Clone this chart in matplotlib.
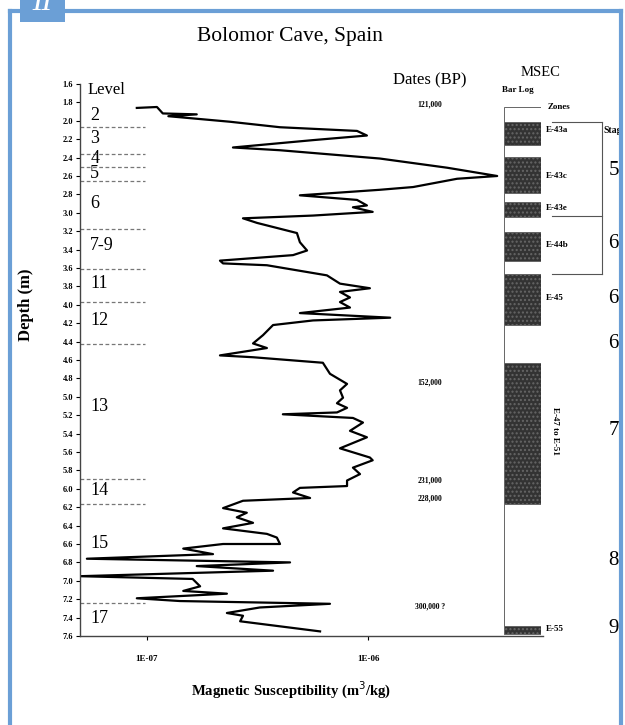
import numpy as np
import matplotlib.pyplot as plt
from matplotlib.patches import Rectangle
from matplotlib.lines import Line2D
from matplotlib.ticker import NullLocator

plt.rcParams['font.family'] = ['Liberation Serif', 'DejaVu Serif']

# susceptibility log: depth (m) and value in units of 1E-07 m3/kg
depth = [1.86, 1.85, 1.92, 1.93, 1.95, 2.01, 2.07, 2.11, 2.16, 2.21, 2.29, 2.32,
         2.41, 2.51, 2.60, 2.63, 2.72, 2.75, 2.81, 2.86, 2.92, 2.94, 2.99, 3.03,
         3.06, 3.11, 3.22, 3.32, 3.41, 3.46, 3.52, 3.55, 3.57, 3.68, 3.77, 3.82,
         3.86, 3.92, 3.97, 4.03, 4.09, 4.14, 4.17, 4.22, 4.33, 4.42, 4.47, 4.55,
         4.57, 4.63, 4.75, 4.86, 4.93, 5.01, 5.07, 5.12, 5.17, 5.19, 5.23, 5.28,
         5.37, 5.44, 5.56, 5.66, 5.69, 5.77, 5.84, 5.91, 5.97, 5.99, 6.04, 6.10,
         6.13, 6.21, 6.26, 6.31, 6.37, 6.43, 6.49, 6.53, 6.60, 6.60, 6.65, 6.71,
         6.76, 6.80, 6.84, 6.89, 6.95, 6.98, 7.06, 7.11, 7.14, 7.19, 7.22, 7.25,
         7.29, 7.35, 7.38, 7.44, 7.55]
susc = [0.90, 1.11, 1.18, 1.68, 1.25, 2.37, 4.00, 8.92, 9.89, 5.64, 2.45, 4.00,
        11.3, 22.8, 38.4, 25.3, 16.0, 11.3, 4.92, 8.92, 9.89, 8.55, 10.5, 5.64,
        2.72, 3.15, 4.77, 4.92, 5.30, 4.58, 2.14, 2.21, 3.49, 6.52, 7.47, 10.2,
        7.47, 8.29, 7.47, 8.29, 4.92, 12.6, 5.64, 3.72, 3.35, 3.02, 3.49, 2.14,
        3.02, 6.25, 6.73, 8.04, 7.47, 7.71, 7.24, 8.04, 7.24, 4.12, 8.55, 9.49,
        8.29, 9.89, 7.47, 10.2, 10.5, 8.55, 9.20, 8.04, 8.04, 4.92, 4.58, 5.47,
        2.72, 2.21, 2.83, 2.55, 3.02, 2.21, 3.49, 3.87, 4.00, 2.21, 1.46, 1.99,
        0.535, 4.44, 1.68, 3.72, 0.497, 1.61, 1.74, 1.46, 2.30, 0.90, 1.41, 6.73,
        3.24, 2.30, 2.72, 2.64, 6.07]

levels = ['2', '3', '4', '5', '6', '7-9', '11', '12', '13', '14', '15', '17']
level_depth = [1.94, 2.19, 2.41, 2.57, 2.90, 3.35, 3.77, 4.17, 5.10, 6.02, 6.59, 7.41]
level_bounds = [2.07, 2.36, 2.50, 2.65, 3.18, 3.61, 3.97, 4.43, 5.89, 6.17, 7.24]

dates = ['121,000', '152,000', '231,000', '228,000', '300,000 ?']
date_depth = [1.82, 4.84, 5.91, 6.11, 7.28]

# bar log segments (top, bottom), alternating white / dark
bar_edges = [1.85, 2.01, 2.26, 2.39, 2.79, 2.88, 3.05, 3.21, 3.52, 3.66, 4.22,
             4.63, 6.16, 7.49, 7.58]
zones = ['E-43a', 'E-43c', 'E-43e', 'E-44b', 'E-45', 'E-55']
zone_depth = [2.10, 2.60, 2.95, 3.35, 3.93, 7.52]
stages = ['5', '6', '6', '6', '7', '8', '9']
stage_depth = [2.54, 3.33, 3.93, 4.42, 5.37, 6.78, 7.52]

W, H = 625, 725
fig = plt.figure(figsize=(W / 100, H / 100), dpi=100)

# main log plot
ax = fig.add_axes([80 / W, 89 / H, 463 / W, 552 / H])
ax.plot(np.array(susc) * 1e-7, depth, color='black', lw=1.6)
ax.set_xscale('log')
ax.set_xlim(4.98e-8, 6.19e-6)
ax.set_ylim(7.6, 1.6)
ax.set_xticks([1e-7, 1e-6])
ax.set_xticklabels(['1E-07', '1E-06'])
ax.xaxis.set_minor_locator(NullLocator())
yt = np.arange(1.6, 7.61, 0.2)
ax.set_yticks(yt)
ax.set_yticklabels([f'{v:.1f}' for v in yt])
ax.tick_params(labelsize=6, length=3, width=0.8, pad=2)
ax.tick_params(axis='x', labelsize=6.5, pad=11)
for lab in ax.get_xticklabels() + ax.get_yticklabels():
    lab.set_fontweight('bold')
ax.spines['top'].set_visible(False)
ax.spines['right'].set_visible(False)
for s in ['left', 'bottom']:
    ax.spines[s].set_color('#444444')
    ax.spines[s].set_linewidth(1.0)

ax.set_ylabel('Depth (m)', fontsize=12, fontweight='bold')
ax.yaxis.set_label_coords(-0.100, 0.60)
ax.set_xlabel('Magnetic Susceptibility (m$^3$/kg)', fontsize=10.5,
              fontweight='bold')
ax.xaxis.set_label_coords(0.456, -0.08)

yt_tr = ax.get_yaxis_transform()
ax.hlines(level_bounds, 0, 0.14, transform=yt_tr, colors='#777777',
          linestyles=(0, (3, 2)), lw=0.9)
ax.text(0.017, 1.66, 'Level', transform=yt_tr, fontsize=12, va='center')
for lab, d in zip(levels, level_depth):
    ax.text(0.022, d, lab, transform=yt_tr, fontsize=13, va='center')

ax.text(0.756, 1.56, 'Dates (BP)', transform=yt_tr, fontsize=12,
        ha='center', va='center', clip_on=False)
for lab, d in zip(dates, date_depth):
    ax.text(0.756, d, lab, transform=yt_tr, fontsize=5.5, fontweight='bold',
            ha='center', va='center')

# bar log
ax2 = fig.add_axes([504 / W, 89 / H, 37 / W, 552 / H])
ax2.set_ylim(7.6, 1.6)
ax2.set_xlim(0, 1)
ax2.axis('off')
for i in range(len(bar_edges) - 1):
    top, bot = bar_edges[i], bar_edges[i + 1]
    dark = i % 2 == 1
    ax2.bar(0, bot - top, bottom=top, width=1, align='edge',
            color='#333333' if dark else 'white',
            edgecolor='#666666', lw=0.7, hatch='....' if dark else None)

tr2 = ax2.get_yaxis_transform()
ax2.text(1.0, 1.48, 'MSEC', transform=tr2, fontsize=10.5, ha='center',
         va='center', clip_on=False)
ax2.text(0.38, 1.67, 'Bar Log', transform=tr2, fontsize=6.5,
         fontweight='bold', ha='center', va='center', clip_on=False)
ax2.text(1.19, 1.85, 'Zones', transform=tr2, fontsize=6.5, fontweight='bold',
         ha='left', va='center', clip_on=False)
for lab, d in zip(zones, zone_depth):
    ax2.text(1.12, d, lab, transform=tr2, fontsize=6.5, fontweight='bold',
             ha='left', va='center', clip_on=False)
ax2.text(1.38, 5.37, 'E-47 to E-51', transform=tr2, fontsize=6.5,
         fontweight='bold', rotation=270, ha='center', va='center',
         clip_on=False)

# stage bracket
for d in [2.01, 3.03, 3.67]:
    ax2.plot([1.30, 2.65], [d, d], color='#555555', lw=0.8,
             transform=tr2, clip_on=False)
ax2.plot([2.65, 2.65], [2.01, 3.67], color='#555555', lw=0.8,
         transform=tr2, clip_on=False)
ax2.text(2.7, 2.1, 'Stage', transform=tr2, fontsize=7, fontweight='bold',
         ha='left', va='center', clip_on=False)
for lab, d in zip(stages, stage_depth):
    ax2.text(2.82, d, lab, transform=tr2, fontsize=15, ha='left',
             va='center', clip_on=False)

fig.text(290 / W, 1 - 37 / H, 'Bolomor Cave, Spain', fontsize=15.5,
         ha='center', va='center')

# blue page frame
blue = '#6b9fd6'
fig.add_artist(Rectangle((621 / W, 0), 4 / W, 1, transform=fig.transFigure,
                         facecolor='white', edgecolor='none', zorder=9))
fig.add_artist(Line2D([10 / W, 10 / W], [0, 1 - 11 / H], color=blue, lw=3,
                      transform=fig.transFigure, zorder=10))
fig.add_artist(Line2D([10 / W, 621 / W], [1 - 11 / H, 1 - 11 / H], color=blue,
                      lw=3, transform=fig.transFigure, zorder=10))
fig.add_artist(Line2D([621 / W, 621 / W], [0, 1 - 11 / H], color=blue, lw=3,
                      transform=fig.transFigure, zorder=10))
fig.add_artist(Rectangle((20 / W, 1 - 22 / H), 45 / W, 22 / H,
                         transform=fig.transFigure, facecolor=blue,
                         edgecolor='none', zorder=10))
fig.text(42 / W, 1 - 5 / H, '11', fontsize=16, color='white',
         fontweight='bold', style='italic', ha='center', va='center',
         zorder=11)

fig.savefig('out.png', dpi=100)
